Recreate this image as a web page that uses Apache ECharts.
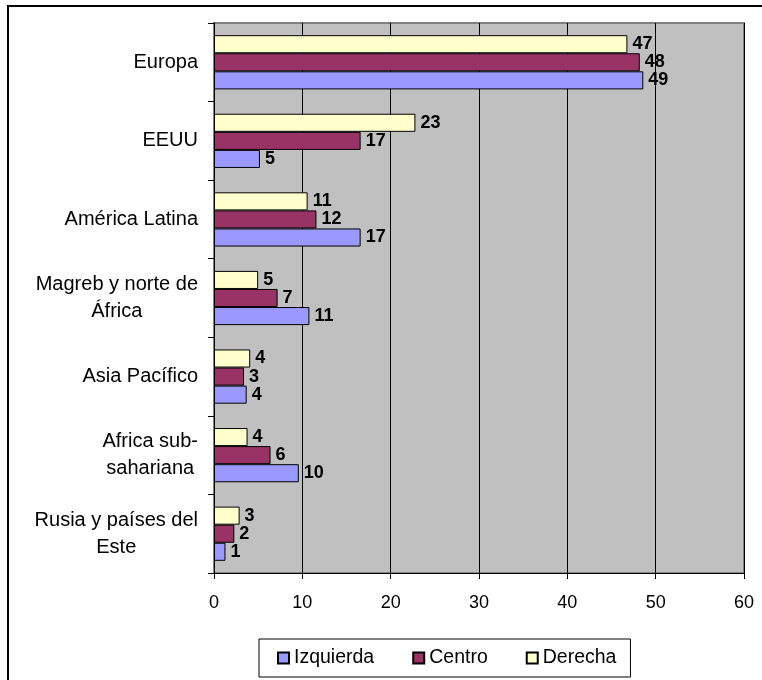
<!DOCTYPE html>
<html>
<head>
<meta charset="utf-8">
<script src="https://cdn.jsdelivr.net/npm/echarts@6/dist/echarts.min.js"></script>
<style>
html,body{margin:0;padding:0;background:#fff;}
#chart{width:762px;height:680px;}
</style>
</head>
<body>
<div id="chart"></div>
<script>
// categories listed bottom-to-top (as the value axis draws them)
const categories = ['Rusia y países del\nEste', 'Africa sub-\nsahariana', 'Asia Pacífico', 'Magreb y norte de\nÁfrica', 'América Latina', 'EEUU', 'Europa'];
const izquierda = [1.3, 9.6, 3.7, 10.8, 16.6, 5.2, 48.6];
const centro    = [2.3, 6.4, 3.4, 7.2, 11.6, 16.6, 48.2];
const derecha   = [2.9, 3.8, 4.1, 5.0, 10.6, 22.8, 46.8];
const xTicks = [0, 10, 20, 30, 40, 50, 60];

const FONT = '"Liberation Sans", Arial, sans-serif';
const chart = echarts.init(document.getElementById('chart'), null, {renderer: 'canvas'});

function mkSeries(name, data, color) {
  return {
    name: name,
    type: 'bar',
    data: data,
    barGap: '0%',
    barCategoryGap: '31%',
    itemStyle: {color: color, borderColor: '#000', borderWidth: 1},
    label: {
      show: true, position: 'right', distance: 5,
      fontFamily: FONT, fontWeight: 'bold', fontSize: 18, color: '#000',
      formatter: p => String(Math.round(p.value))
    },
    emphasis: {disabled: true},
    animation: false
  };
}

chart.setOption({
  animation: false,
  backgroundColor: '#fff',
  graphic: [{
    type: 'rect', z: 100, silent: true,
    shape: {x: 8, y: 6, width: 770, height: 700},
    style: {fill: 'none', stroke: '#000', lineWidth: 2}
  }],
  grid: {
    left: 214, right: 18, top: 23, bottom: 107,
    show: true, backgroundColor: '#C0C0C0', borderColor: '#808080', borderWidth: 2
  },
  legend: {
    left: 259, top: 639,
    padding: [9, 14, 9, 18],
    borderColor: '#000', borderWidth: 1,
    itemWidth: 11, itemHeight: 11, itemGap: 38,
    icon: 'rect',
    textStyle: {fontFamily: FONT, fontSize: 19.5, color: '#000'},
    data: ['Izquierda', 'Centro', 'Derecha']
  },
  xAxis: {
    type: 'value', min: xTicks[0], max: xTicks[xTicks.length - 1], interval: 10,
    axisLine: {show: true, lineStyle: {color: '#000', width: 1}},
    axisTick: {show: true, length: 6, lineStyle: {color: '#000'}},
    splitLine: {show: true, lineStyle: {color: '#000', width: 1}},
    axisLabel: {fontFamily: FONT, fontSize: 18, color: '#000', margin: 21}
  },
  yAxis: {
    type: 'category', data: categories,
    axisLine: {show: true, lineStyle: {color: '#000', width: 1}},
    axisTick: {show: true, length: 6, lineStyle: {color: '#000'}},
    axisLabel: {
      margin: 16, align: 'right',
      formatter: v => v.split('\n').map(s => '{c|' + s + '}').join('\n'),
      rich: {c: {align: 'center', fontFamily: FONT, fontSize: 20, lineHeight: 27, color: '#000'}}
    }
  },
  // series order chosen so that Derecha sits on top and Izquierda at the bottom of each group
  series: [
    mkSeries('Derecha', derecha, '#FFFFCC'),
    mkSeries('Centro', centro, '#993366'),
    mkSeries('Izquierda', izquierda, '#9999FF')
  ]
});
</script>
</body>
</html>
